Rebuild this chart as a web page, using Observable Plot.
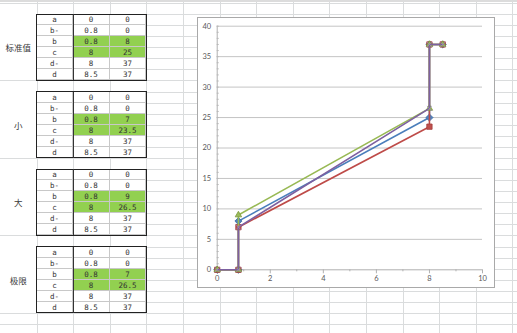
<!DOCTYPE html>
<html><head><meta charset="utf-8">
<script src="https://cdn.jsdelivr.net/npm/d3@7"></script>
<script src="https://cdn.jsdelivr.net/npm/@observablehq/plot@0.6"></script>
<style>
html,body{margin:0;padding:0;background:#fff;}
#page{position:relative;width:517px;height:333px;overflow:hidden;background:#fff;}
.cell{position:absolute;box-sizing:border-box;text-align:center;font-family:"DejaVu Sans Mono",monospace;font-size:7.5px;color:#333;border-right:1px solid #c8c8c8;border-bottom:1px solid #c8c8c8;background:#fff;}
.lbl{position:absolute;display:flex;align-items:center;justify-content:center;font-family:"Noto Sans CJK SC",sans-serif;font-size:8.5px;color:#3a3a3a;}
#chartbox{position:absolute;left:197px;top:17px;width:298px;height:271px;box-sizing:border-box;border:1px solid #a9a9a9;background:#fff;}
</style></head><body><div id="page"></div>
<script>
// ---- data ----
const seriesNames = ["标准值", "小", "大", "极限"];
const rowLabels = ["a", "b-", "b", "c", "d-", "d"];
const highlightRows = ["b", "c"];
const xStandard = [0, 0.8, 0.8, 8, 8, 8.5];
const yStandard = [0, 0, 8, 25, 37, 37];
const xSmall = [0, 0.8, 0.8, 8, 8, 8.5];
const ySmall = [0, 0, 7, 23.5, 37, 37];
const xLarge = [0, 0.8, 0.8, 8, 8, 8.5];
const yLarge = [0, 0, 9, 26.5, 37, 37];
const xLimit = [0, 0.8, 0.8, 8, 8, 8.5];
const yLimit = [0, 0, 7, 26.5, 37, 37];
const xTicks = [0, 2, 4, 6, 8, 10];
const xMinorTicks = [1, 3, 5, 7, 9];
const yTicks = [0, 5, 10, 15, 20, 25, 30, 35, 40];
const yMinorTicks = d3.range(0, 41, 1);

const xs = [xStandard, xSmall, xLarge, xLimit];
const ys = [yStandard, ySmall, yLarge, yLimit];
const lineColors = ["#4A7EBB", "#BE4B48", "#98B954", "#7D60A0"];
const markerFill = ["#4F81BD", "#C0504D", "#9BBB59", "#8064A2"];
const markerStroke = ["#3A6AA5", "#A33E3B", "#7E9B44", "#9A85B8"];
const markerSymbol = ["diamond2", "square", "triangle", "times"];
const markerR = [3.2, 3.0, 2.4, 2.4];

const page = document.getElementById("page");

// ---- spreadsheet background grid ----
const colW = 36.6, rowH = 11.07, rowY0 = 3;
const bg = d3.select(page).append("svg").attr("width", 517).attr("height", 333)
  .style("position", "absolute").style("left", 0).style("top", 0);
bg.append("rect").attr("x", 0).attr("y", 0).attr("width", 517).attr("height", 2).attr("fill", "#dcdcdc");
for (let k = 1; k * colW < 517; k++) {
  const x = Math.round(k * colW) + 0.5;
  bg.append("line").attr("x1", x).attr("x2", x).attr("y1", 2).attr("y2", 333).attr("stroke", "#dadcdd");
}
for (let k = 0; rowY0 + k * rowH < 333; k++) {
  const y = Math.round(rowY0 + k * rowH) + 0.5;
  bg.append("line").attr("x1", 0).attr("x2", 517).attr("y1", y).attr("y2", y).attr("stroke", "#dadcdd");
}

// ---- tables ----
seriesNames.forEach((name, t) => {
  const top = rowY0 + rowH * (1 + 7 * t);
  const lbl = document.createElement("div");
  lbl.className = "lbl";
  Object.assign(lbl.style, {left: "0px", top: top + "px", width: colW + "px", height: (rowH * 6) + "px", background: "#fff"});
  lbl.textContent = name;
  page.appendChild(lbl);
  rowLabels.forEach((rl, r) => {
    const vals = [rl, String(xs[t][r]), String(ys[t][r])];
    vals.forEach((v, c) => {
      const d = document.createElement("div");
      d.className = "cell";
      const x0 = colW * (1 + c), y0 = top + r * rowH;
      Object.assign(d.style, {left: x0 + "px", top: y0 + "px", width: colW + "px", height: rowH + "px", lineHeight: rowH + "px"});
      if (c > 0 && highlightRows.includes(rl)) d.style.background = "#92D050";
      d.textContent = v;
      page.appendChild(d);
    });
  });
  const frame = document.createElement("div");
  Object.assign(frame.style, {position: "absolute", boxSizing: "border-box", left: (colW - 0.5) + "px", top: (top - 0.5) + "px",
    width: (colW * 3 + 1) + "px", height: (rowH * 6 + 1) + "px", border: "1px solid #222"});
  page.appendChild(frame);
  const vline = document.createElement("div");
  Object.assign(vline.style, {position: "absolute", left: (colW * 2 - 0.5) + "px", top: top + "px", width: "1px", height: (rowH * 6) + "px", background: "#333"});
  page.appendChild(vline);
});

// ---- chart ----
const box = document.createElement("div");
box.id = "chartbox";
page.appendChild(box);

const marks = [
  Plot.gridY(yTicks.filter(d => d > 0), {stroke: "#c4c4c4", strokeOpacity: 1}),
  Plot.ruleX([0], {stroke: "#b0b0b0"}),
  Plot.ruleY([0], {stroke: "#b0b0b0"}),
  Plot.axisY({ticks: yMinorTicks, tickSize: 2, dx: 2, fill: "none", stroke: "#b8b8b8", label: null}),
  Plot.axisY({ticks: yTicks, tickSize: 0, tickPadding: 6, label: null, tickFormat: d => String(d)}),
  Plot.axisX({ticks: xTicks, tickSize: 4, tickPadding: 2, stroke: "#b0b0b0", label: null, tickFormat: d => String(d)}),
  Plot.axisX({ticks: xMinorTicks, tickSize: 2, fill: "none", stroke: "#b0b0b0", label: null})
];
seriesNames.forEach((name, i) => {
  const pts = xs[i].map((x, j) => ({x, y: ys[i][j], s: name}));
  marks.push(Plot.line(pts, {x: "x", y: "y", stroke: lineColors[i], strokeWidth: 1.6}));
  if (markerSymbol[i] === "times") {
    marks.push(Plot.dot(pts, {x: "x", y: "y", symbol: "times", r: markerR[i], stroke: markerStroke[i], strokeWidth: 0.8, fill: "none"}));
  } else {
    marks.push(Plot.dot(pts, {x: "x", y: "y", symbol: markerSymbol[i], r: markerR[i], fill: markerFill[i], stroke: markerStroke[i], strokeWidth: 0.8}));
  }
});

const chart = Plot.plot({
  width: 296, height: 269,
  marginLeft: 18.7, marginRight: 12, marginTop: 7.7, marginBottom: 17.7,
  x: {domain: [0, 10], label: null},
  y: {domain: [0, 40], label: null},
  style: {fontFamily: "Lato, 'Open Sans', sans-serif", fontSize: "7.5px", color: "#595959", background: "transparent", overflow: "visible"},
  marks
});
box.appendChild(chart);
</script>
</body></html>
